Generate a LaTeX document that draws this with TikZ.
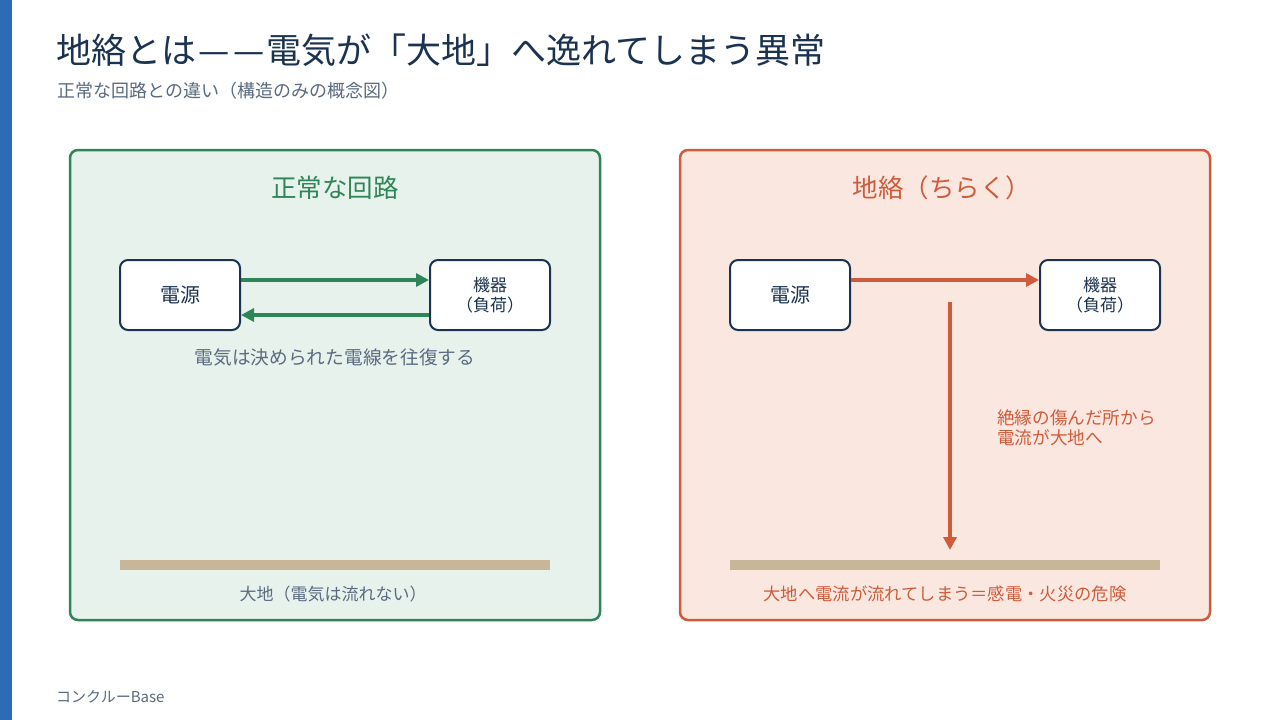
\documentclass[tikz,border=0pt]{standalone}
\usepackage{fontspec}
\setmainfont{Noto Sans CJK JP}
\usetikzlibrary{arrows.meta}
\definecolor{navy}{HTML}{1B3350}
\definecolor{sidebar}{HTML}{2B6CB5}
\definecolor{subgray}{HTML}{5A6B80}
\definecolor{okgreen}{HTML}{2E8558}
\definecolor{okfill}{HTML}{E8F2EC}
\definecolor{bad}{HTML}{D05B3B}
\definecolor{badfill}{HTML}{FAE8E0}
\definecolor{ground}{HTML}{C8B699}
\tikzset{
  panel/.style={rounded corners=8pt, line width=2.5pt},
  devbox/.style={draw=navy, fill=white, line width=2pt, rounded corners=8pt, minimum width=120pt, minimum height=70pt, text=navy, align=center, inner sep=0pt},
  flow/.style={line width=3.5pt, -{Triangle[length=13pt,width=13pt]}},
  gbar/.style={fill=ground, draw=none}
}
\begin{document}
\begin{tikzpicture}[x=1pt,y=-1pt]
\useasboundingbox (0,0) rectangle (1280,720);
\fill[white] (0,0) rectangle (1280,720);
\fill[sidebar] (0,0) rectangle (12,720);
\node[anchor=west, text=navy, inner sep=0pt, font=\fontsize{35}{40}\selectfont] (title) at (56,50) {地絡とは\kern2pt—\kern4pt—\kern2pt電気が「大地」へ逸れてしまう異常};
\node[anchor=west, text=subgray, inner sep=0pt, font=\fontsize{18}{21}\selectfont] (subtitle) at (57,91) {正常な回路との違い（構造のみの概念図）};
% left panel
\draw[panel, draw=okgreen, fill=okfill] (70,150) rectangle (600,620);
\node[text=okgreen, font=\fontsize{25.5}{30}\selectfont] (lt) at (335,188) {正常な回路};
\node[devbox, font=\fontsize{20}{24}\selectfont] (lsrc) at (180,295) {電源};
\node[devbox, font=\fontsize{17}{20}\selectfont] (lload) at (490,295) {機器\\（負荷）};
\draw[flow, okgreen] ([yshift=15pt]lsrc.east) -- ([yshift=15pt]lload.west);
\draw[flow, okgreen] ([yshift=-20pt]lload.west) -- ([yshift=-20pt]lsrc.east);
\node[text=subgray, font=\fontsize{18.7}{22}\selectfont] (lcap) at (335,357) {電気は決められた電線を往復する};
\fill[gbar] (120,560) rectangle (550,570);
\node[text=subgray, font=\fontsize{17}{20}\selectfont] (lg) at (333,594) {大地（電気は流れない）};
% right panel
\draw[panel, draw=bad, fill=badfill] (680,150) rectangle (1210,620);
\node[text=bad, font=\fontsize{25.5}{30}\selectfont] (rt) at (942,188) {地絡（ちらく）};
\node[devbox, font=\fontsize{20}{24}\selectfont] (rsrc) at (790,295) {電源};
\node[devbox, font=\fontsize{17}{20}\selectfont] (rload) at (1100,295) {機器\\（負荷）};
\draw[flow, bad] ([yshift=15pt]rsrc.east) -- ([yshift=15pt]rload.west);
\coordinate (leak) at (950,302);
\coordinate (earth) at (950,550);
\draw[flow, bad] (leak) -- (earth);
\node[anchor=west, align=left, text=bad, inner sep=0pt, font=\fontsize{17.6}{20}\selectfont] (rnote) at (997,428) {絶縁の傷んだ所から\\電流が大地へ};
\fill[gbar] (730,560) rectangle (1160,570);
\node[text=bad, font=\fontsize{17.3}{20}\selectfont] (rg) at (945,594) {大地へ電流が流れてしまう＝感電・火災の危険};
% footer
\node[anchor=west, text=subgray, inner sep=0pt, font=\fontsize{15}{18}\selectfont] (foot) at (56,697) {コンクルーBase};
\end{tikzpicture}
\end{document}
